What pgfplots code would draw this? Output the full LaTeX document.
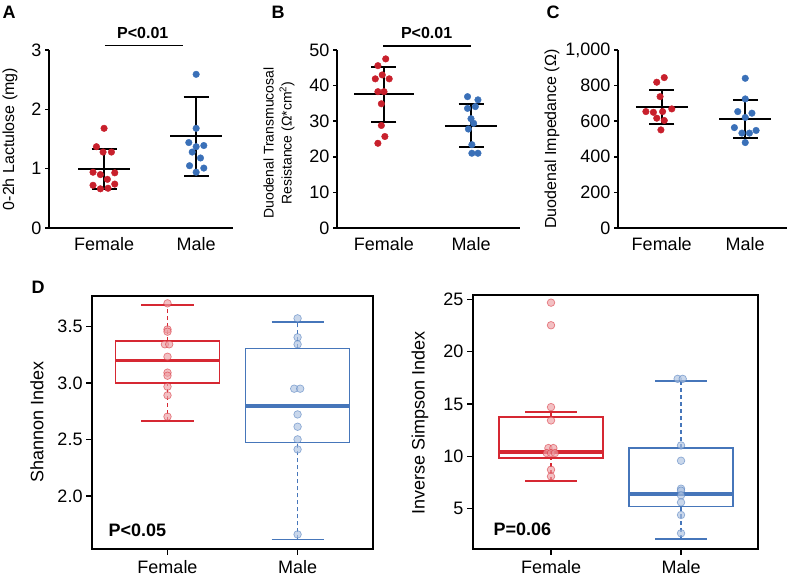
\documentclass[border=0pt]{standalone}
\usepackage{fontspec}
\setmainfont{Liberation Sans}
\usepackage{pgfplots}
\pgfplotsset{compat=1.18}
\usepgfplotslibrary{statistics}

\definecolor{fred}{RGB}{200,32,44}
\definecolor{mblue}{RGB}{58,112,184}
\definecolor{dred}{RGB}{214,40,50}
\definecolor{dblue}{RGB}{70,118,186}

\pgfplotsset{
  top/.style={
    scale only axis, anchor=south west, clip=false,
    axis x line*=bottom, axis y line*=left,
    axis line style={line width=1.5pt, black},
    xtick={1,2}, xticklabels={Female,Male},
    xtick style={draw=none},
    ytick style={line width=1.5pt, black},
    tick align=outside, major tick length=4pt,
    ymin=0,
    tick label style={font=\fontsize{18}{20}\selectfont},
    /pgf/number format/assume math mode=true,
    xticklabel style={yshift=-2pt},
  },
  dots/.style={only marks, mark=*, mark size=3.3pt, mark options={draw=#1, fill=#1}},
  sd/.style={draw=none, mark=none, error bars/.cd, y dir=both, y explicit,
    error bar style={line width=2pt, black},
    error mark options={rotate=90, mark size=12.5pt, line width=2pt, black}},
  meanl/.style={black, line width=2pt, mark=none},
  bot/.style={
    scale only axis, anchor=south west,
    xmin=0.42, xmax=2.58,
    xtick={1,2}, xticklabels={Female,Male},
    tick align=outside, major tick length=6pt, tick pos=left,
    axis line style={line width=1.4pt, black},
    tick style={line width=1.4pt, black},
    tick label style={font=\fontsize{18}{20}\selectfont},
    /pgf/number format/assume math mode=true,
    xticklabel style={yshift=-2pt},
  },
  bx/.style={draw=#1, color=#1, line width=1.7pt, mark=none, solid,
    boxplot/draw direction=y,
    boxplot/every box/.style={draw=#1, line width=1.7pt, solid},
    boxplot/every whisker/.style={draw=none},
    boxplot/every median/.style={draw=#1, line width=3.2pt, solid}},
  cap/.style={draw=#1, line width=1.7pt, mark=none, solid},
  wsk/.style={draw=#1, line width=1.6pt, mark=none, dash pattern=on 4pt off 3pt},
  bpts/.style={only marks, mark=*, mark size=3.8pt,
    mark options={draw=#1, fill=#1!45, fill opacity=0.65, draw opacity=0.55, line width=0.7pt}},
}

\begin{document}
\begin{tikzpicture}
\useasboundingbox (0,0) rectangle (788pt,581pt);

% ---------- Panel A ----------
\begin{axis}[top, at={(49pt,353pt)}, width=184pt, height=178pt,
  xmin=0.402, xmax=2.40, ymax=3, ytick={0,1,2,3}]
\addplot[dots=fred] coordinates {
 (1.000,1.68) (0.917,1.37) (0.989,1.28) (1.080,1.28) (0.880,0.94)
 (0.960,0.90) (1.116,0.93) (1.036,0.82) (0.880,0.72) (1.116,0.74)
 (0.960,0.66) (1.043,0.67)};
\addplot[dots=mblue] coordinates {
 (2.000,2.59) (2.000,1.68) (1.920,1.44) (2.000,1.37) (2.083,1.39)
 (1.957,1.28) (2.047,1.18) (1.928,1.05) (2.083,1.01) (2.000,0.94)};
\addplot[sd] coordinates {(1,1.00) +- (0,0.335) (2,1.545) +- (0,0.67)};
\addplot[meanl] coordinates {(0.717,1.00) (1.283,1.00)};
\addplot[meanl] coordinates {(1.717,1.545) (2.283,1.545)};
\addplot[black, line width=1.3pt, mark=none] coordinates {(1.01,3.07) (1.855,3.07)};
\node[font=\bfseries\fontsize{16}{18}\selectfont] at (axis cs:1.42,3.29) {P<0.01};
\end{axis}

% ---------- Panel B ----------
\begin{axis}[top, at={(337pt,353pt)}, width=183pt, height=178pt,
  xmin=0.46, xmax=2.563, ymax=50, ytick={0,10,20,30,40,50}]
\addplot[dots=fred] coordinates {
 (1.02,47.5) (0.93,45.6) (0.98,43.0) (0.90,41.9) (1.06,41.9)
 (0.93,38.3) (1.00,38.3) (0.97,34.9) (0.97,28.8) (1.01,25.7) (0.93,23.8)};
\addplot[dots=mblue] coordinates {
 (1.96,36.9) (2.08,36.0) (1.96,33.6) (2.05,34.1) (2.00,30.7)
 (2.03,29.4) (1.97,27.8) (2.01,23.4) (2.01,21.0) (2.08,21.0)};
\addplot[sd] coordinates {(1,37.5) +- (0,7.85) (2,28.7) +- (0,6.0)};
\addplot[meanl] coordinates {(0.66,37.5) (1.34,37.5)};
\addplot[meanl] coordinates {(1.70,28.7) (2.30,28.7)};
\addplot[black, line width=1.3pt, mark=none] coordinates {(0.99,51.1) (2.0,51.1)};
\node[font=\bfseries\fontsize{16}{18}\selectfont] at (axis cs:1.49,54.8) {P<0.01};
\end{axis}

% ---------- Panel C ----------
\begin{axis}[top, at={(618pt,353pt)}, width=169pt, height=178pt,
  xmin=0.476, xmax=2.5, ymax=1000, ytick={0,200,400,600,800,1000},
  /pgf/number format/1000 sep={,}]
\addplot[dots=fred] coordinates {
 (1.03,845) (0.94,819) (0.98,738) (0.81,654) (0.90,650)
 (1.01,654) (1.12,669) (0.94,617) (1.03,604) (0.99,551)};
\addplot[dots=mblue] coordinates {
 (2.00,841) (2.00,725) (1.91,654) (2.08,645) (2.00,621)
 (1.87,564) (2.13,548) (1.96,533) (2.05,533) (2.00,480)};
\addplot[sd] coordinates {(1,680) +- (0,94) (2,612) +- (0,107)};
\addplot[meanl] coordinates {(0.69,680) (1.31,680)};
\addplot[meanl] coordinates {(1.69,612) (2.31,612)};
\end{axis}

% ---------- Panel D left ----------
\begin{axis}[bot, at={(92.05pt,32pt)}, width=281pt, height=253pt,
  ymin=1.531, ymax=3.772, ytick={2,2.5,3,3.5},
  yticklabel style={/pgf/number format/.cd, fixed, fixed zerofill, precision=1}]
\addplot[wsk=dred] coordinates {(1,3.373) (1,3.69)};
\addplot[wsk=dred] coordinates {(1,2.667) (1,3.0)};
\addplot[wsk=dblue] coordinates {(2,3.308) (2,3.541)};
\addplot[wsk=dblue] coordinates {(2,1.616) (2,2.475)};
\addplot[bx=dred, boxplot prepared={lower whisker=2.667, lower quartile=3.0, median=3.2,
  upper quartile=3.373, upper whisker=3.69, draw position=1, box extend=0.8, whisker extend=0}]
  coordinates {};
\addplot[cap=dred] coordinates {(0.8,3.69) (1.2,3.69)};
\addplot[cap=dred] coordinates {(0.8,2.667) (1.2,2.667)};
\addplot[bx=dblue, boxplot prepared={lower whisker=1.616, lower quartile=2.475, median=2.797,
  upper quartile=3.308, upper whisker=3.541, draw position=2, box extend=0.8, whisker extend=0}]
  coordinates {};
\addplot[cap=dblue] coordinates {(1.8,3.541) (2.2,3.541)};
\addplot[cap=dblue] coordinates {(1.8,1.616) (2.2,1.616)};
\addplot[bpts=dred] coordinates {
 (1,3.707) (1,3.476) (1,3.456) (0.98,3.344) (1.013,3.344) (1,3.234)
 (1,3.093) (1,3.066) (1,2.969) (1,2.892) (1,2.703)};
\addplot[bpts=dblue] coordinates {
 (2,3.574) (2,3.406) (2,3.344) (1.974,2.951) (2.02,2.951) (2,2.723)
 (2,2.614) (2,2.502) (2,2.413) (2,1.66)};
\node[anchor=west, font=\bfseries\fontsize{18}{20}\selectfont] at (axis description cs:0.046,0.075) {P<0.05};
\end{axis}

% ---------- Panel D right ----------
\begin{axis}[bot, at={(473pt,32pt)}, width=285pt, height=254pt,
  xmin=0.40, xmax=2.592, ymin=1.15, ymax=25.41, ytick={5,10,15,20,25}]
\addplot[wsk=dred] coordinates {(1,13.74) (1,14.25)};
\addplot[wsk=dred] coordinates {(1,7.67) (1,9.83)};
\addplot[wsk=dblue] coordinates {(2,10.82) (2,17.21)};
\addplot[wsk=dblue] coordinates {(2,2.11) (2,5.22)};
\addplot[bx=dred, boxplot prepared={lower whisker=7.67, lower quartile=9.83, median=10.41,
  upper quartile=13.74, upper whisker=14.25, draw position=1, box extend=0.8, whisker extend=0}]
  coordinates {};
\addplot[cap=dred] coordinates {(0.8,14.25) (1.2,14.25)};
\addplot[cap=dred] coordinates {(0.8,7.67) (1.2,7.67)};
\addplot[bx=dblue, boxplot prepared={lower whisker=2.11, lower quartile=5.22, median=6.40,
  upper quartile=10.82, upper whisker=17.21, draw position=2, box extend=0.8, whisker extend=0}]
  coordinates {};
\addplot[cap=dblue] coordinates {(1.8,17.21) (2.2,17.21)};
\addplot[cap=dblue] coordinates {(1.8,2.11) (2.2,2.11)};
\addplot[bpts=dred] coordinates {
 (1,24.68) (1,22.52) (1,14.70) (1,13.43) (0.98,10.79) (1.018,10.79)
 (0.967,10.31) (1,10.31) (1.03,10.31) (1,8.72) (1,8.08)};
\addplot[bpts=dblue] coordinates {
 (1.974,17.40) (2.013,17.40) (2,11.04) (2,9.58) (2,6.91) (2,6.72)
 (2,6.27) (2,5.60) (2,4.40) (2,2.65)};
\node[anchor=west, font=\bfseries\fontsize{18}{20}\selectfont] at (axis description cs:0.06,0.079) {P=0.06};
\end{axis}

% ---------- Labels ----------
\node[rotate=90, font=\fontsize{16}{18}\selectfont] at (10pt,442pt) {0-2h Lactulose (mg)};
\node[rotate=90, align=center, font=\fontsize{14}{18}\selectfont] at (279pt,438pt)
  {Duodenal Transmucosal\\Resistance (Ω*cm\textsuperscript{2})};
\node[rotate=90, font=\fontsize{16}{18}\selectfont] at (552pt,442pt) {Duodenal Impedance (Ω)};
\node[rotate=90, font=\fontsize{18}{20}\selectfont] at (37pt,159pt) {Shannon Index};
\node[rotate=90, font=\fontsize{18}{20}\selectfont] at (420pt,158pt) {Inverse Simpson Index};

\node[font=\bfseries\fontsize{18}{20}\selectfont] at (9pt,569pt) {A};
\node[font=\bfseries\fontsize{18}{20}\selectfont] at (278pt,569pt) {B};
\node[font=\bfseries\fontsize{18}{20}\selectfont] at (553pt,569pt) {C};
\node[font=\bfseries\fontsize{18}{20}\selectfont] at (38pt,294pt) {D};
\end{tikzpicture}
\end{document}
